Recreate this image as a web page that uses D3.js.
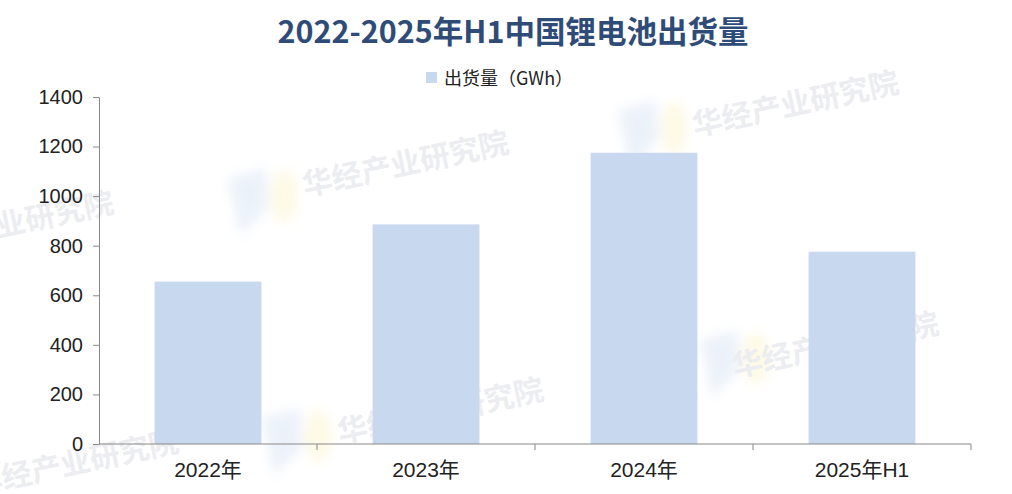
<!DOCTYPE html>
<html><head><meta charset="utf-8">
<script src="https://cdn.jsdelivr.net/npm/d3@7"></script>
<style>body{margin:0;background:#fff}svg{display:block}</style>
</head><body>
<script>
const categories = ["2022年","2023年","2024年","2025年H1"];
const values = [655, 886, 1175, 776];
const yTicks = [0,200,400,600,800,1000,1200,1400];
const title = "2022-2025年H1中国锂电池出货量";
const legendLabel = "出货量（GWh）";
const watermark = "华经产业研究院";

const W = 1012, H = 494;
const svg = d3.select("body").append("svg").attr("width", W).attr("height", H);
const m = {left: 99, right: 41, top: 97, bottom: 50};

const defs = svg.append("defs");
defs.append("filter").attr("id","blur").append("feGaussianBlur").attr("stdDeviation",6);

// faint watermark logos
const logos = [[228,168],[262,408],[618,100],[700,330]];
logos.forEach(([lx,ly]) => {
  const g = svg.append("g").attr("filter","url(#blur)").attr("opacity",0.35);
  g.append("path").attr("d",`M${lx},${ly+10} L${lx+38},${ly} L${lx+40},${ly+40} L${lx+12},${ly+68} Z`).attr("fill","#c9daf0");
  g.append("ellipse").attr("cx",lx+56).attr("cy",ly+28).attr("rx",14).attr("ry",26).attr("fill","#fbf0b8");
});
// faint watermarks
const wm = [[305,196],[-90,256],[695,136],[735,377],[340,443],[-25,495]];
wm.forEach(([x,y]) => {
  svg.append("text").attr("transform", `translate(${x},${y}) rotate(-12)`)
    .attr("font-family","Noto Sans CJK SC").attr("font-weight","bold").attr("font-size",30)
    .attr("fill","#ecedf0").text(watermark);
});

const x = d3.scaleBand().domain(categories).range([m.left, W - m.right]).paddingInner(0.51).paddingOuter(0.255);
const y = d3.scaleLinear().domain([0,1400]).range([H - m.bottom, m.top]);

svg.append("g").selectAll("rect").data(values).join("rect")
  .attr("x", (d,i) => x(categories[i])).attr("width", x.bandwidth())
  .attr("y", d => y(d)).attr("height", d => y(0) - y(d))
  .attr("fill", "#c8d8ee");

const yAxis = svg.append("g").attr("transform", `translate(${m.left},0)`)
  .call(d3.axisLeft(y).tickValues(yTicks).tickFormat(d3.format("d")).tickSize(6).tickPadding(10).tickSizeOuter(0));
yAxis.select(".domain").attr("stroke","#888");
yAxis.selectAll(".tick line").attr("stroke","#888");
yAxis.selectAll("text").attr("font-family","Liberation Sans, Arial").attr("font-size",20).attr("fill","#222");

const xb = d3.scaleLinear().domain([0,4]).range([m.left, W - m.right]);
const xAxisG = svg.append("g").attr("transform", `translate(0,${y(0)})`);
xAxisG.append("line").attr("x1", m.left).attr("x2", W - m.right).attr("stroke","#888");
xAxisG.selectAll(".bt").data(d3.range(1,5)).join("line")
  .attr("x1", d => xb(d)).attr("x2", d => xb(d)).attr("y1",0).attr("y2",6).attr("stroke","#888");
xAxisG.selectAll(".lbl").data(categories).join("text")
  .attr("x", d => x(d) + x.bandwidth()/2).attr("y", 33)
  .attr("text-anchor","middle").attr("font-family","Liberation Sans, Noto Sans CJK SC").attr("font-size",21).attr("fill","#222")
  .text(d => d);

svg.append("text").attr("x", 513).attr("y", 43).attr("text-anchor","middle")
  .attr("font-family","Noto Sans CJK SC").attr("font-weight","bold").attr("font-size",30.5)
  .attr("fill","#2f4b78").text(title);

svg.append("rect").attr("x",426).attr("y",72).attr("width",11).attr("height",11).attr("fill","#c8d8ee");
svg.append("text").attr("x",444).attr("y",85).attr("font-family","Noto Sans CJK SC").attr("font-size",18)
  .attr("fill","#222").text(legendLabel);
</script>
</body></html>
